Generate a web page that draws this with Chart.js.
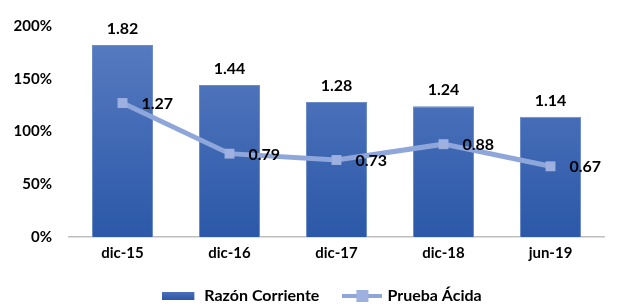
<!DOCTYPE html>
<html>
<head>
<meta charset="utf-8">
<script src="https://cdn.jsdelivr.net/npm/chart.js@4/dist/chart.umd.min.js"></script>
<style>
  html, body { margin: 0; padding: 0; background: #fff; }
  #wrap { position: relative; width: 618px; height: 306px; overflow: hidden; }
</style>
</head>
<body>
<div id="wrap"><canvas id="chart" width="618" height="306"></canvas></div>
<script>
const categories = ['dic-15', 'dic-16', 'dic-17', 'dic-18', 'jun-19'];
const razonCorriente = [1.82, 1.44, 1.28, 1.24, 1.14];
const pruebaAcida = [1.27, 0.79, 0.73, 0.88, 0.67];
const seriesNames = ['Razón Corriente', 'Prueba Ácida'];

const FONT = 'Lato, "Open Sans", sans-serif';
const LINE_COLOR = '#8fa6da';
const POINT_COLOR = '#9db0e0';

function barGradient(ctx, area) {
    const g = ctx.createLinearGradient(0, area.top, 0, area.bottom);
    g.addColorStop(0, '#5a7dc2');
    g.addColorStop(1, '#2b58a8');
    return g;
}

// legend swatches
function barSwatch() {
    const c = document.createElement('canvas');
    c.width = 34; c.height = 8;
    const x = c.getContext('2d');
    const g = x.createLinearGradient(0, 0, 0, 8);
    g.addColorStop(0, '#4a70b8');
    g.addColorStop(1, '#2b58a8');
    x.fillStyle = g;
    x.fillRect(0, 0, 32, 8);
    return c;
}
function lineSwatch() {
    const c = document.createElement('canvas');
    c.width = 40; c.height = 12;
    const x = c.getContext('2d');
    x.strokeStyle = LINE_COLOR;
    x.lineWidth = 4;
    x.beginPath(); x.moveTo(0, 6); x.lineTo(40, 6); x.stroke();
    x.fillStyle = POINT_COLOR;
    x.fillRect(14, 0, 12, 12);
    return c;
}

const valueLabels = {
    id: 'valueLabels',
    afterDatasetsDraw(chart) {
        const ctx = chart.ctx;
        ctx.save();
        ctx.font = 'bold 16px ' + FONT;
        ctx.fillStyle = '#000';
        chart.getDatasetMeta(0).data.forEach((bar, i) => {
            ctx.textAlign = 'center';
            ctx.textBaseline = 'middle';
            ctx.fillText(razonCorriente[i].toFixed(2), bar.x, bar.y - 16);
        });
        chart.getDatasetMeta(1).data.forEach((pt, i) => {
            ctx.textAlign = 'left';
            ctx.textBaseline = 'middle';
            ctx.fillText(pruebaAcida[i].toFixed(2), pt.x + 19, pt.y + 1);
        });
        ctx.restore();
    }
};

// nudge the legend a bit to the right, like the original
const legendShift = {
    id: 'legendShift',
    afterLayout(chart) {
        if (chart.legend) {
            chart.legend.left += 20;
            chart.legend.right += 20;
        }
    }
};

new Chart(document.getElementById('chart'), {
    data: {
        labels: categories,
        datasets: [
            {
                type: 'bar',
                label: seriesNames[0],
                data: razonCorriente,
                backgroundColor: (c) => {
                    const area = c.chart.chartArea;
                    if (!area) return '#3a64b0';
                    return barGradient(c.chart.ctx, area);
                },
                borderColor: '#6c8cc8',
                borderWidth: 1,
                categoryPercentage: 1,
                barPercentage: 0.57,
                order: 1
            },
            {
                type: 'line',
                label: seriesNames[1],
                data: pruebaAcida,
                borderColor: LINE_COLOR,
                borderWidth: 5,
                pointStyle: 'rect',
                pointRadius: 7,
                pointBackgroundColor: POINT_COLOR,
                pointBorderColor: POINT_COLOR,
                pointBorderWidth: 0,
                tension: 0,
                order: 0
            }
        ]
    },
    options: {
        responsive: false,
        animation: false,
        layout: { padding: { top: 12, right: 14, left: 0, bottom: -8 } },
        plugins: {
            tooltip: { enabled: false },
            legend: {
                position: 'bottom',
                labels: {
                    usePointStyle: true,
                    pointStyleWidth: 34,
                    padding: 26,
                    color: '#000',
                    font: { family: FONT, size: 16, weight: 'bold' },
                    generateLabels(chart) {
                        return [
                            { text: seriesNames[0], pointStyle: barSwatch(), datasetIndex: 0, fontColor: '#000', lineWidth: 0, strokeStyle: 'transparent' },
                            { text: seriesNames[1], pointStyle: lineSwatch(), datasetIndex: 1, fontColor: '#000', lineWidth: 0, strokeStyle: 'transparent' }
                        ];
                    }
                }
            }
        },
        scales: {
            x: {
                afterFit(s) { s.height = 25; },
                grid: { display: false, drawTicks: false },
                border: { display: true, color: '#bfbfbf', width: 1.5 },
                ticks: { color: '#000', padding: 7, font: { family: FONT, size: 15, weight: 'bold' } }
            },
            y: {
                min: 0,
                max: 2,
                afterFit(s) { s.width = 69; },
                grid: { display: false, drawTicks: false },
                border: { display: false },
                ticks: {
                    stepSize: 0.5,
                    padding: 17,
                    color: '#000',
                    font: { family: FONT, size: 15, weight: 'bold' },
                    callback: (v) => Math.round(v * 100) + '%'
                }
            }
        }
    },
    plugins: [valueLabels, legendShift]
});
</script>
</body>
</html>
